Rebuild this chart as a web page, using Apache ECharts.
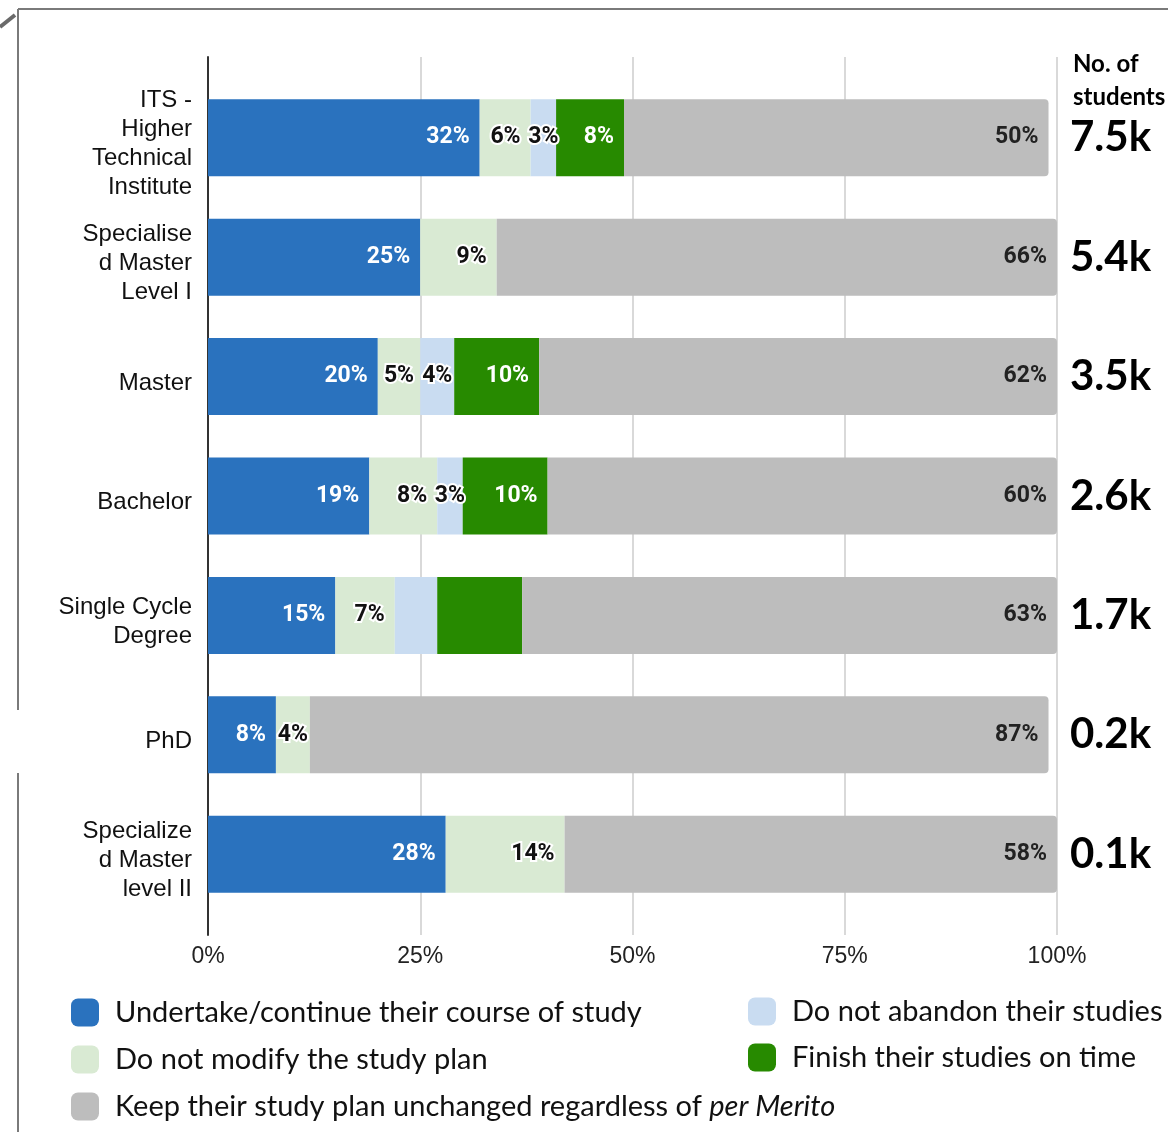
<!DOCTYPE html>
<html>
<head>
<meta charset="utf-8">
<script src="https://cdn.jsdelivr.net/npm/echarts@6/dist/echarts.min.js"></script>
<style>html,body{margin:0;padding:0;background:#fff}#c{width:1168px;height:1132px}</style>
</head>
<body>
<div id="c"></div>
<script>
const categories = ['ITS -\nHigher\nTechnical\nInstitute', 'Specialise\nd Master\nLevel I', 'Master', 'Bachelor', 'Single Cycle\nDegree', 'PhD', 'Specialize\nd Master\nlevel II'];
const studentCounts = ['7.5k', '5.4k', '3.5k', '2.6k', '1.7k', '0.2k', '0.1k'];
const undertake = [32, 25, 20, 19, 15, 8, 28];
const notModify = [6, 9, 5, 8, 7, 4, 14];
const notAbandon = [3, null, 4, 3, 5, null, null];
const onTime = [8, null, 10, 10, 10, null, null];
const keepPlan = [50, 66, 62, 60, 63, 87, 58];
const tickLabels = ['0%', '25%', '50%', '75%', '100%'];
const seriesNames = [
  'Undertake/continue their course of study',
  'Do not modify the study plan',
  'Do not abandon their studies',
  'Finish their studies on time',
  'Keep their study plan unchanged regardless of per Merito'
];
// categories whose segment label is not shown in the reference
const unlabeled = { 2: [4], 3: [4] };

const chart = echarts.init(document.getElementById('c'), null, { renderer: 'canvas' });

function mkSeries(idx, data, color, textColor, halo, radius) {
  const hide = unlabeled[idx] || [];
  return {
    name: seriesNames[idx],
    type: 'bar',
    stack: 'total',
    xAxisIndex: 1,
    yAxisIndex: 1,
    barWidth: 77,
    clip: true,
    itemStyle: { color: color, borderRadius: radius || 0 },
    label: {
      show: true,
      position: 'insideRight',
      distance: 10,
      formatter: '{c}%',
      fontFamily: 'Roboto',
      fontWeight: 'bold',
      fontSize: 23,
      color: textColor,
      textBorderColor: halo ? '#fff' : 'transparent',
      textBorderWidth: halo ? 4 : 0
    },
    emphasis: { disabled: true },
    data: data.map((v, i) => {
      if (v == null) return null;
      const item = { value: v };
      if (hide.includes(i)) item.label = { show: false };
      else if (halo && v <= 5) item.label = { position: 'inside' };
      return item;
    })
  };
}

const legendText = {
  fontFamily: 'Lato',
  fontSize: 29,
  color: '#111',
  padding: [0, 0, 0, 11],
  rich: { i: { fontFamily: 'Lato', fontSize: 29, fontStyle: 'italic', color: '#111' } }
};
const legendFmt = name => name.replace('per Merito', '{i|per Merito}');

const catLabelStyle = { fontFamily: 'Liberation Sans', fontSize: 24, lineHeight: 29, color: '#111', align: 'right' };

const option = {
  animation: false,
  backgroundColor: '#fff',
  title: {
    text: 'No. of\nstudents',
    left: 1073,
    top: 48,
    padding: 0,
    textStyle: { fontFamily: 'Lato', fontWeight: 'bold', fontSize: 24, lineHeight: 33, color: '#000' }
  },
  grid: [
    { left: 208, right: 111, top: 57, height: 878 },
    { left: 208, right: 111, top: 78, height: 836 }
  ],
  xAxis: [
    {
      gridIndex: 0, type: 'value', min: 0, max: 100, interval: 25,
      axisLine: { show: false }, axisTick: { show: false },
      axisLabel: {
        margin: 10, fontFamily: 'Liberation Sans', fontSize: 23, color: '#222',
        formatter: v => tickLabels[Math.round(v / 25)]
      },
      splitLine: { show: true, lineStyle: { color: '#d9d9d9', width: 2 } }
    },
    { gridIndex: 1, type: 'value', min: 0, max: 100, show: false }
  ],
  yAxis: [
    {
      gridIndex: 0, type: 'value', min: 0, max: 1,
      axisLine: { show: true, lineStyle: { color: '#333', width: 2 } },
      axisTick: { show: false }, axisLabel: { show: false }, splitLine: { show: false }
    },
    {
      gridIndex: 1, type: 'category', inverse: true, data: categories,
      axisLine: { show: false }, axisTick: { show: false },
      axisLabel: Object.assign({
        margin: 16,
        formatter: v => '{s| }\n' + v.split('\n').map(l => '{t|' + l + '}').join('\n'),
        rich: {
          s: { fontSize: 4, lineHeight: 13 },
          t: catLabelStyle
        }
      }, catLabelStyle)
    },
    {
      gridIndex: 1, type: 'category', inverse: true, position: 'right', data: studentCounts,
      axisLine: { show: false }, axisTick: { show: false },
      axisLabel: { margin: 13, fontFamily: 'Lato', fontWeight: 'bold', fontSize: 42, color: '#000' }
    }
  ],
  legend: [
    {
      data: [seriesNames[0], seriesNames[1], seriesNames[4]],
      orient: 'vertical', left: 71, top: 998, padding: 0,
      itemWidth: 28, itemHeight: 28, itemGap: 18, icon: 'roundRect',
      selectedMode: false, textStyle: legendText, formatter: legendFmt
    },
    {
      data: [seriesNames[2], seriesNames[3]],
      orient: 'vertical', left: 748, top: 997, padding: 0,
      itemWidth: 28, itemHeight: 28, itemGap: 17, icon: 'roundRect',
      selectedMode: false, textStyle: legendText, formatter: legendFmt
    }
  ],
  graphic: [
    { type: 'line', shape: { x1: 18, y1: 9, x2: 1168, y2: 9 }, style: { stroke: '#7a7a7a', lineWidth: 2 } },
    { type: 'line', shape: { x1: 18, y1: 9, x2: 18, y2: 710 }, style: { stroke: '#7a7a7a', lineWidth: 2 } },
    { type: 'line', shape: { x1: 18, y1: 773, x2: 18, y2: 1132 }, style: { stroke: '#7a7a7a', lineWidth: 2 } },
    { type: 'line', shape: { x1: 0, y1: 27, x2: 15, y2: 15 }, style: { stroke: '#6a6a6a', lineWidth: 4 } }
  ],
  series: [
    mkSeries(0, undertake, '#2a72be', '#fff', false),
    mkSeries(1, notModify, '#d9ead3', '#111', true),
    mkSeries(2, notAbandon, '#c9dcf1', '#111', true),
    mkSeries(3, onTime, '#278a00', '#fff', false),
    mkSeries(4, keepPlan, '#bdbdbd', '#222', false, [0, 4, 4, 0])
  ]
};
chart.setOption(option);
</script>
</body>
</html>
